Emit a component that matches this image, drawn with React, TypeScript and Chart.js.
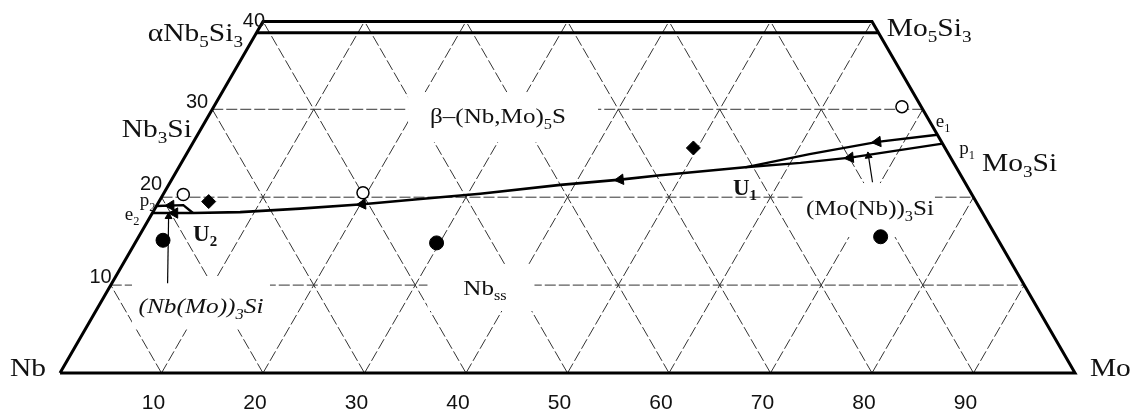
import React, { useEffect, useRef } from "react";
import { Chart, registerables } from "chart.js";

Chart.register(...registerables);

type TP = [number, number]; // [Mo at.%, Si at.%]

// ---------- data (ternary coordinates: [Mo at.%, Si at.%]) ----------
const bottomTicks = [10, 20, 30, 40, 50, 60, 70, 80, 90];
const siGridLevels = [10, 20, 30];
const moGridLevels = [10, 20, 30, 40, 50, 60, 70, 80, 90];
const nbGridLevels = [10, 20, 30, 40, 50, 60, 70, 80, 90];
const siTop = 40;
const siInnerTop = 38.7;

const openCircles: TP[] = [[2.0, 20.3], [19.6, 20.5], [67.8, 30.3]];
const diamonds: TP[] = [[4.9, 19.5], [49.6, 25.6]];
const filledCircles: TP[] = [[2.6, 15.1], [29.7, 14.8], [73.1, 15.5]];

const curveE1: TP[] = [[72.9, 27.1], [67.4, 26.3], [61.4, 24.9], [55.8, 23.4]];
const curveP1: TP[] = [[73.9, 26.1], [65.6, 24.5], [61.0, 23.9], [55.8, 23.4]];
const curveU1U2: TP[] = [
  [55.8, 23.4], [47.9, 22.5], [44.2, 22.0], [38.6, 21.4], [31.2, 20.4],
  [25.6, 19.8], [20.2, 19.2], [14.3, 18.7], [8.6, 18.3], [4.0, 18.2],
];
const curveE2: TP[] = [[0, 18.2], [4.0, 18.2]];
const curveP2: TP[] = [[0, 19.0], [2.6, 19.1], [4.0, 18.2]];

const arrowsOnE1: TP[] = [[67.4, 26.3]];
const arrowsOnP1: TP[] = [[65.6, 24.5]];
const arrowsOnMain: TP[] = [[44.2, 22.0], [20.2, 19.2]];
const arrowsOnE2: TP[] = [[2.2, 18.2]];
const arrowsOnP2: TP[] = [[1.4, 19.05]];

const pointerMoNb: TP[] = [[69.2, 21.7], [67.3, 24.7]];
const pointerNbMo: TP[] = [[5.5, 10.2], [1.8, 17.8]];

// ---------- geometry helpers ----------
const SQ3 = Math.sqrt(3) / 2;
const toXY = (p: TP) => ({ x: p[0] + p[1] / 2, y: p[1] * SQ3 });
const GAP = { x: null as any, y: null as any };

function gridData() {
  const out: any[] = [];
  const seg = (a: TP, b: TP) => out.push(toXY(a), toXY(b), GAP);
  siGridLevels.forEach((s) => seg([0, s], [100 - s, s]));
  moGridLevels.forEach((m) => seg([m, 0], [m, Math.min(siTop, 100 - m)]));
  nbGridLevels.forEach((n) => {
    const t = 100 - n;
    const s = Math.min(siTop, t);
    seg([t, 0], [t - s, s]);
  });
  return out;
}

function rotationAlong(curve: TP[], p: TP) {
  const P = toXY(p);
  let best = 0;
  let bd = Infinity;
  for (let i = 0; i < curve.length - 1; i++) {
    const a = toXY(curve[i]);
    const b = toXY(curve[i + 1]);
    const mx = (a.x + b.x) / 2;
    const my = (a.y + b.y) / 2;
    const d = (mx - P.x) ** 2 + (my - P.y) ** 2;
    if (d < bd) {
      bd = d;
      best = i;
    }
  }
  const a = toXY(curve[best]);
  const b = toXY(curve[best + 1]);
  let dx = b.x - a.x;
  let dy = b.y - a.y;
  if (dx > 0) {
    dx = -dx;
    dy = -dy;
  }
  return (Math.atan2(dx, dy) * 180) / Math.PI;
}

function rotationTo(from: TP, to: TP) {
  const a = toXY(from);
  const b = toXY(to);
  return (Math.atan2(b.x - a.x, b.y - a.y) * 180) / Math.PI;
}

// ---------- text ----------
const SERIF = "'Liberation Serif', 'DejaVu Serif', serif";
const SANS = "'Liberation Sans', Arial, sans-serif";

type Part = [string, ("n" | "sub" | "sup")?];
interface FontSpec { size: number; family: string; stretch: number; weight?: string; style?: string }
const FONTS: Record<string, FontSpec> = {
  corner: { size: 25, family: SERIF, stretch: 1.18 },
  element: { size: 25, family: SERIF, stretch: 1.18 },
  region: { size: 22, family: SERIF, stretch: 1.14 },
  regionItalic: { size: 22, family: SERIF, stretch: 1.15, style: "italic" },
  num: { size: 20, family: SANS, stretch: 1 },
  tick: { size: 21, family: SANS, stretch: 1 },
  small: { size: 19, family: SERIF, stretch: 1 },
  bold: { size: 23, family: SERIF, stretch: 1, weight: "bold" },
};

interface Label { parts: Part[]; at: TP; align: "left" | "center" | "right"; font: string }
const labels: Label[] = [
  { parts: [["α"], ["Nb"], ["5", "sub"], ["Si"], ["3", "sub"]], at: [-1.34, 38.74], align: "right", font: "corner" },
  { parts: [["40"]], at: [-0.97, 40.16], align: "center", font: "num" },
  { parts: [["Mo"], ["5", "sub"], ["Si"], ["3", "sub"]], at: [61.8, 39.3], align: "left", font: "corner" },
  { parts: [["30"]], at: [-1.97, 30.94], align: "center", font: "num" },
  { parts: [["Nb"], ["3", "sub"], ["Si"]], at: [-0.9, 27.8], align: "right", font: "corner" },
  { parts: [["20"]], at: [-1.84, 21.62], align: "center", font: "num" },
  { parts: [["p"], ["2", "sub"]], at: [-1.2, 19.68], align: "center", font: "small" },
  { parts: [["e"], ["2", "sub"]], at: [-1.95, 18.09], align: "center", font: "small" },
  { parts: [["U"], ["2", "sub"]], at: [6.33, 15.93], align: "center", font: "bold" },
  { parts: [["10"]], at: [-1.53, 11.04], align: "center", font: "num" },
  { parts: [["(Nb(Mo))"], ["3", "sub"], ["Si"]], at: [10.08, 7.62], align: "center", font: "regionItalic" },
  { parts: [["Nb"]], at: [-3.5, 0.68], align: "center", font: "element" },
  { parts: [["Mo"]], at: [103.2, 0.57], align: "center", font: "element" },
  { parts: [["Nb"], ["ss", "sub"]], at: [36.98, 9.78], align: "center", font: "region" },
  { parts: [["β–(Nb,Mo)"], ["5", "sub"], ["S"]], at: [28.53, 29.24], align: "center", font: "region" },
  { parts: [["e"], ["1", "sub"]], at: [72.66, 28.67], align: "center", font: "small" },
  { parts: [["p"], ["1", "sub"]], at: [76.56, 25.6], align: "center", font: "small" },
  { parts: [["Mo"], ["3", "sub"], ["Si"]], at: [78.84, 24.0], align: "left", font: "corner" },
  { parts: [["U"], ["1", "sub"]], at: [56.91, 21.16], align: "center", font: "bold" },
  { parts: [["(Mo(Nb))"], ["3", "sub"], ["Si"]], at: [70.41, 18.77], align: "center", font: "region" },
];

// white gaps cut into the grid around region labels (width/height in px)
const masks: { at: TP; w: number; h: number }[] = [
  { at: [29.09, 29.12], w: 190, h: 50 },
  { at: [36.64, 9.67], w: 107, h: 46 },
  { at: [70.43, 18.54], w: 132, h: 54 },
  { at: [9.91, 7.96], w: 138, h: 53 },
];

const TICK_Y = -3.3 * SQ3;
const TICK_SHIFT = -0.8;

function drawRich(ctx: CanvasRenderingContext2D, parts: Part[], px: number, py: number, align: string, f: FontSpec) {
  const sub = f.size * 0.65;
  const fontFor = (k: string) => `${f.style || "normal"} ${f.weight || "normal"} ${k === "n" ? f.size : sub}px ${f.family}`;
  const widths: number[] = [];
  let total = 0;
  parts.forEach(([t, k = "n"]) => {
    ctx.font = fontFor(k);
    const w = ctx.measureText(t).width;
    widths.push(w);
    total += w;
  });
  const tw = total * f.stretch;
  const x0 = align === "center" ? px - tw / 2 : align === "right" ? px - tw : px;
  ctx.save();
  ctx.translate(x0, py + f.size * 0.34);
  ctx.scale(f.stretch, 1);
  ctx.textBaseline = "alphabetic";
  ctx.textAlign = "left";
  ctx.fillStyle = "#111";
  let cx = 0;
  parts.forEach(([t, k = "n"], i) => {
    ctx.font = fontFor(k);
    const dy = k === "sub" ? f.size * 0.24 : k === "sup" ? -f.size * 0.4 : 0;
    ctx.fillText(t, cx, dy);
    cx += widths[i];
  });
  ctx.restore();
}

const pix = (chart: any, p: TP) => {
  const c = toXY(p);
  return [chart.scales.x.getPixelForValue(c.x), chart.scales.y.getPixelForValue(c.y)];
};

const maskPlugin = {
  id: "gridMasks",
  afterDatasetDraw(chart: any, args: any) {
    if (args.index !== 0) return;
    const ctx = chart.ctx;
    ctx.save();
    ctx.fillStyle = "#fff";
    masks.forEach((m) => {
      const [x, y] = pix(chart, m.at);
      ctx.fillRect(x - m.w / 2, y - m.h / 2, m.w, m.h);
    });
    ctx.restore();
  },
};

const labelPlugin = {
  id: "diagramLabels",
  afterDatasetsDraw(chart: any) {
    const ctx = chart.ctx;
    labels.forEach((l) => {
      const [x, y] = pix(chart, l.at);
      drawRich(ctx, l.parts, x, y, l.align, FONTS[l.font]);
    });
    bottomTicks.forEach((v) => {
      const x = chart.scales.x.getPixelForValue(v + TICK_SHIFT);
      const y = chart.scales.y.getPixelForValue(TICK_Y);
      drawRich(ctx, [[String(v)]], x, y, "center", FONTS.tick);
    });
  },
};

// ---------- chart ----------
const PX = 10.15;
const X_MIN = -60 / PX;
const X_MAX = X_MIN + 1134 / PX;
const Y_MAX = 373 / PX;
const Y_MIN = Y_MAX - 417 / PX;

const line = (data: TP[], width: number, extra: any = {}) => ({
  data: data.map(toXY),
  showLine: true,
  borderColor: "#000",
  backgroundColor: "#000",
  borderWidth: width,
  pointRadius: 0,
  pointHoverRadius: 0,
  tension: 0,
  order: 0,
  ...extra,
});

const heads = (pts: TP[], rots: number[], radius: number) => ({
  data: pts.map(toXY),
  showLine: false,
  pointStyle: "triangle",
  pointRadius: radius,
  pointHoverRadius: radius,
  pointRotation: rots,
  backgroundColor: "#000",
  borderColor: "#000",
  borderWidth: 1,
  order: 0,
});

export default function App() {
  const ref = useRef<HTMLCanvasElement>(null);
  useEffect(() => {
    const flowPts: TP[] = [...arrowsOnE1, ...arrowsOnP1, ...arrowsOnMain, ...arrowsOnE2, ...arrowsOnP2];
    const flowRots: number[] = [
      ...arrowsOnE1.map((p) => rotationAlong(curveE1, p)),
      ...arrowsOnP1.map((p) => rotationAlong(curveP1, p)),
      ...arrowsOnMain.map((p) => rotationAlong(curveU1U2, p)),
      ...arrowsOnE2.map((p) => rotationAlong(curveE2, p)),
      ...arrowsOnP2.map((p) => rotationAlong(curveP2, p)),
    ];
    const pointerTips: TP[] = [pointerMoNb[1], pointerNbMo[1]];
    const pointerRots = [rotationTo(pointerMoNb[0], pointerMoNb[1]), rotationTo(pointerNbMo[0], pointerNbMo[1])];

    const datasets: any[] = [
      {
        data: gridData(),
        showLine: true,
        spanGaps: false,
        borderColor: "#333",
        borderWidth: 1,
        borderDash: [11, 3],
        pointRadius: 0,
        pointHoverRadius: 0,
        order: 100,
      },
      line([[0, 0], [100, 0], [100 - siTop, siTop], [0, siTop], [0, 0]], 3),
      line([[0, siInnerTop], [100 - siInnerTop, siInnerTop]], 3),
      line(curveE1, 2.4),
      line(curveP1, 2.4),
      line(curveU1U2, 2.6),
      line(curveE2, 2.4),
      line(curveP2, 2.4),
      line(pointerMoNb, 1.2),
      line(pointerNbMo, 1.2),
      heads(pointerTips, pointerRots, 4),
      heads(flowPts, flowRots, 6),
      {
        data: openCircles.map(toXY),
        showLine: false,
        pointStyle: "circle",
        pointRadius: 6,
        pointHoverRadius: 6,
        backgroundColor: "#fff",
        borderColor: "#000",
        borderWidth: 1.5,
        order: 0,
      },
      {
        data: diamonds.map(toXY),
        showLine: false,
        pointStyle: "rectRot",
        pointRadius: 7,
        pointHoverRadius: 7,
        backgroundColor: "#000",
        borderColor: "#000",
        borderWidth: 1,
        order: 0,
      },
      {
        data: filledCircles.map(toXY),
        showLine: false,
        pointStyle: "circle",
        pointRadius: 7,
        pointHoverRadius: 7,
        backgroundColor: "#000",
        borderColor: "#000",
        borderWidth: 1,
        order: 0,
      },
    ];

    const chart = new Chart(ref.current as HTMLCanvasElement, {
      type: "scatter",
      data: { datasets },
      options: {
        animation: false,
        responsive: false,
        devicePixelRatio: 1,
        events: [],
        layout: { padding: 0, autoPadding: false },
        plugins: { legend: { display: false }, tooltip: { enabled: false } },
        scales: {
          x: { type: "linear", min: X_MIN, max: X_MAX, display: false, bounds: "data" },
          y: { type: "linear", min: Y_MIN, max: Y_MAX, display: false, bounds: "data" },
        },
      } as any,
      plugins: [maskPlugin, labelPlugin],
    });
    return () => chart.destroy();
  }, []);

  return (
    <div style={{ position: "absolute", left: 0, top: 0, width: 1134, height: 417, background: "#fff" }}>
      <canvas ref={ref} width={1134} height={417} style={{ display: "block" }} />
    </div>
  );
}
